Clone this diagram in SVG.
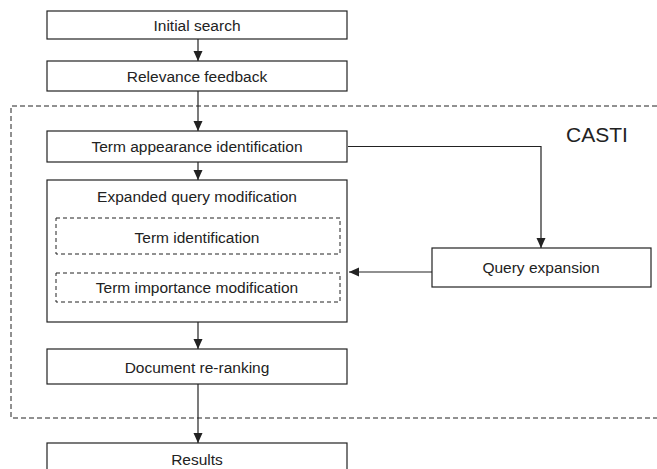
<svg xmlns="http://www.w3.org/2000/svg" width="657" height="469" viewBox="0 0 657 469">
<defs>
<marker id="ah" markerWidth="10" markerHeight="10" refX="10" refY="5" orient="auto" markerUnits="userSpaceOnUse">
<path d="M0,0.5 L10,5 L0,9.5 Z" fill="#222"/>
</marker>
<style>
.box{fill:#fff;stroke:#222;stroke-width:1.2}
.dbox{fill:none;stroke:#222;stroke-width:1;stroke-dasharray:4,3}
.t{font-family:"Liberation Sans",Arial,sans-serif;font-size:15.5px;fill:#222;text-anchor:middle}
.c{fill:none;stroke:#222;stroke-width:1.2}
</style>
</defs>
<rect width="657" height="469" fill="#fff"/>
<g id="casti">
<path d="M657,106 H11 V418 H657" fill="none" stroke="#222" stroke-width="1" stroke-dasharray="5,3"/>
<text x="597" y="142" style="font-family:'Liberation Sans',Arial,sans-serif;font-size:21px;fill:#222;text-anchor:middle">CASTI</text>
</g>
<g id="connectors">
<line class="c" x1="198" y1="39" x2="198" y2="61" marker-end="url(#ah)"/>
<line class="c" x1="198" y1="91" x2="198" y2="131" marker-end="url(#ah)"/>
<line class="c" x1="198" y1="162" x2="198" y2="180" marker-end="url(#ah)"/>
<line class="c" x1="198" y1="254" x2="198" y2="273" marker-end="url(#ah)"/>
<line class="c" x1="198" y1="322" x2="198" y2="349" marker-end="url(#ah)"/>
<line class="c" x1="198" y1="384" x2="198" y2="443" marker-end="url(#ah)"/>
<path class="c" d="M348,146.5 H541 V248" marker-end="url(#ah)"/>
<line class="c" x1="432" y1="272" x2="349" y2="272" marker-end="url(#ah)"/>
</g>
<g id="n1"><rect class="box" x="47" y="11" width="300" height="28"/><text class="t" x="197" y="30.5">Initial search</text></g>
<g id="n2"><rect class="box" x="47" y="61" width="300" height="30"/><text class="t" x="197" y="82">Relevance feedback</text></g>
<g id="n3"><rect class="box" x="47" y="131" width="300" height="31"/><text class="t" x="197" y="152">Term appearance identification</text></g>
<g id="n4"><rect class="box" x="47" y="180" width="300" height="142"/><text class="t" x="197" y="202">Expanded query modification</text></g>
<g id="n5"><rect class="dbox" x="56" y="218" width="284" height="36"/><text class="t" x="197" y="243">Term identification</text></g>
<g id="n6"><rect class="dbox" x="56" y="273" width="284" height="29"/><text class="t" x="197" y="293">Term importance modification</text></g>
<g id="n7"><rect class="box" x="47" y="349" width="300" height="35"/><text class="t" x="197" y="373">Document re-ranking</text></g>
<g id="n8"><rect class="box" x="47" y="443" width="300" height="30"/><text class="t" x="197" y="465">Results</text></g>
<g id="n9"><rect class="box" x="432" y="248" width="219" height="39"/><text class="t" x="541" y="273">Query expansion</text></g>
</svg>
